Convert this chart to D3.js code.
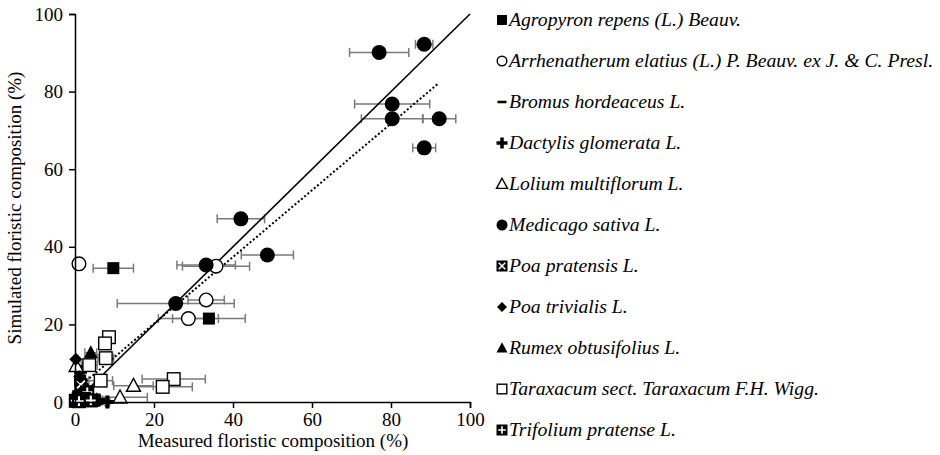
<!DOCTYPE html>
<html>
<head>
<meta charset="utf-8">
<script src="https://cdn.jsdelivr.net/npm/d3@7/dist/d3.min.js"></script>
<style>
  html, body { margin: 0; padding: 0; background: #fff; }
  svg { display: block; }
  text { font-family: "Liberation Serif", "Times New Roman", serif; fill: #000; }
</style>
</head>
<body>
<svg id="chart" width="940" height="455"></svg>
<script>
// Measured vs simulated floristic composition (%), one array per species: [measured, simulated, error of measured]
const agropyron   = [[9.7, 34.5, 5.1], [33.9, 21.5, 9.2], [1.3, 5.5, 1.0], [0.8, 1.5, 0.6]];
const arrhenather = [[1.0, 35.6, 0.6], [35.7, 35.0, 8.5], [33.2, 26.3, 4.6], [28.7, 21.5, 7.6]];
const bromus      = [[0.5, 0.3, 0.5], [1.2, 1.0, 0.8]];
const dactylis    = [[1.4, 7.8, 1.0], [8.2, 0.0, 0.6], [6.0, 0.5, 1.0]];
const lolium      = [[0.3, 9.3, 0.5], [14.8, 4.2, 5.0], [11.4, 1.2, 6.9]];
const medicago    = [[88.4, 92.2, 2.2], [77.0, 90.1, 7.5], [80.3, 76.8, 9.5], [80.3, 73.0, 7.8],
                     [92.2, 73.0, 4.2], [88.4, 65.5, 2.9], [42.0, 47.2, 6.0], [48.7, 37.9, 6.6],
                     [33.2, 35.3, 7.4], [25.5, 25.4, 14.8]];
const poaPrat     = [[0.8, 0.8, 0.5], [1.5, 4.5, 1.0]];
const poaTriv     = [[0.2, 11.0, 0.5], [1.0, 0.5, 0.5], [1.2, 6.5, 0.8]];
const rumex       = [[4.0, 12.7, 1.5], [2.3, 0.3, 1.0], [4.4, 0.3, 1.2], [5.5, 0.6, 1.0], [3.2, 3.2, 1.0]];
const taraxacum   = [[8.6, 16.7, 1.5], [7.6, 15.1, 1.5], [7.8, 11.3, 2.0], [3.6, 9.5, 2.0],
                     [6.5, 5.5, 3.0], [25.0, 5.9, 8.0], [22.2, 3.9, 7.5]];
const trifolium   = [[0.2, 0.3, 0.5], [3.1, 2.5, 1.0], [2.3, 0.8, 0.8], [1.0, 0.2, 0.5], [4.0, 0.4, 0.8]];

const speciesNames = [
  "Agropyron repens (L.) Beauv.",
  "Arrhenatherum elatius (L.) P. Beauv. ex J. & C. Presl.",
  "Bromus hordeaceus L.",
  "Dactylis glomerata L.",
  "Lolium multiflorum L.",
  "Medicago sativa L.",
  "Poa pratensis L.",
  "Poa trivialis L.",
  "Rumex obtusifolius L.",
  "Taraxacum sect. Taraxacum F.H. Wigg.",
  "Trifolium pratense L."
];
const speciesShapes = ["square", "circleOpen", "dash", "plus", "triangleOpen", "circle",
                       "squareX", "diamond", "triangle", "squareOpen", "squarePlus"];
const speciesData = [agropyron, arrhenather, bromus, dactylis, lolium, medicago,
                     poaPrat, poaTriv, rumex, taraxacum, trifolium];

const axisTicks = [0, 20, 40, 60, 80, 100];
const oneToOne = [[0, 0], [100, 100]];          // 1:1 line
const fitLine  = [[2, 4.7], [92, 82.1]];        // fitted trend (dotted)

const svg = d3.select("#chart");
const x = d3.scaleLinear().domain([0, 100]).range([75, 470]);
const y = d3.scaleLinear().domain([0, 100]).range([402, 14]);

// draw a marker of a given shape centred on (0,0) with half-size s
function drawMarker(g, shape, s) {
  switch (shape) {
    case "circle":
      g.append("circle").attr("r", s).attr("fill", "#000"); break;
    case "circleOpen":
      g.append("circle").attr("r", s - 0.7).attr("fill", "#fff").attr("stroke", "#000").attr("stroke-width", 1.4); break;
    case "square":
      g.append("rect").attr("x", -s).attr("y", -s).attr("width", 2 * s).attr("height", 2 * s).attr("fill", "#000"); break;
    case "squareOpen":
      g.append("rect").attr("x", -s + 0.7).attr("y", -s + 0.7).attr("width", 2 * s - 1.4).attr("height", 2 * s - 1.4)
        .attr("fill", "#fff").attr("stroke", "#000").attr("stroke-width", 1.4); break;
    case "triangle":
    case "triangleOpen": {
      const p = `M0,${-s * 1.05}L${s},${s * 0.8}L${-s},${s * 0.8}Z`;
      const t = g.append("path").attr("d", p);
      if (shape === "triangle") t.attr("fill", "#000");
      else t.attr("fill", "#fff").attr("stroke", "#000").attr("stroke-width", 1.4).attr("stroke-linejoin", "miter");
      break;
    }
    case "diamond":
      g.append("path").attr("d", `M0,${-s}L${s},0L0,${s}L${-s},0Z`).attr("fill", "#000"); break;
    case "plus": {
      const w = s * 0.32;
      g.append("path").attr("d",
        `M${-w},${-s}H${w}V${-w}H${s}V${w}H${w}V${s}H${-w}V${w}H${-s}V${-w}H${-w}Z`).attr("fill", "#000");
      break;
    }
    case "dash":
      g.append("rect").attr("x", -s).attr("y", -s * 0.28).attr("width", 2 * s).attr("height", s * 0.56).attr("fill", "#000"); break;
    case "squareX": {
      g.append("rect").attr("x", -s).attr("y", -s).attr("width", 2 * s).attr("height", 2 * s).attr("fill", "#000");
      const k = s * 0.6;
      g.append("path").attr("d", `M${-k},${-k}L${k},${k}M${k},${-k}L${-k},${k}`)
        .attr("stroke", "#fff").attr("stroke-width", s * 0.28);
      break;
    }
    case "squarePlus": {
      g.append("rect").attr("x", -s).attr("y", -s).attr("width", 2 * s).attr("height", 2 * s).attr("fill", "#000");
      const k = s * 0.7;
      g.append("path").attr("d", `M${-k},0H${k}M0,${-k}V${k}`)
        .attr("stroke", "#fff").attr("stroke-width", s * 0.3);
      break;
    }
  }
}

const plotSize = {circle: 7.5, circleOpen: 7.5, square: 6, squareOpen: 7, triangle: 7, triangleOpen: 7,
                  diamond: 6.5, plus: 6.5, dash: 5, squareX: 6.5, squarePlus: 7};

// horizontal error bars
const errG = svg.append("g").attr("class", "errors");
speciesData.forEach(rows => {
  rows.forEach(([mx, sy, e]) => {
    if (e <= 0) return;
    const x0 = x(Math.max(0, mx - e)), x1 = x(mx + e), yy = y(sy);
    errG.append("line").attr("x1", x0).attr("x2", x1).attr("y1", yy).attr("y2", yy)
      .attr("stroke", "#7a7a7a").attr("stroke-width", 1.5);
    [mx - e, mx + e].forEach(v => {
      if (v < 0) return;
      errG.append("line").attr("x1", x(v)).attr("x2", x(v)).attr("y1", yy - 4.5).attr("y2", yy + 4.5)
        .attr("stroke", "#7a7a7a").attr("stroke-width", 1.5);
    });
  });
});

// reference lines
const line = d3.line().x(d => x(d[0])).y(d => y(d[1]));
svg.append("path").datum(oneToOne).attr("d", line).attr("fill", "none")
  .attr("stroke", "#000").attr("stroke-width", 1.6);
svg.append("path").datum(fitLine).attr("d", line).attr("fill", "none")
  .attr("stroke", "#000").attr("stroke-width", 2).attr("stroke-dasharray", "2,2.2");

// markers
const markG = svg.append("g").attr("class", "markers");
speciesData.forEach((rows, i) => {
  const shape = speciesShapes[i];
  rows.forEach(([mx, sy]) => {
    const g = markG.append("g").attr("transform", `translate(${x(mx)},${y(sy)})`);
    drawMarker(g, shape, plotSize[shape]);
  });
});

// axes
const xAxis = svg.append("g").attr("transform", "translate(0,402)")
  .call(d3.axisBottom(x).tickValues(axisTicks).tickSize(6).tickPadding(5).tickFormat(d3.format("d")));
const yAxis = svg.append("g").attr("transform", "translate(75,0)")
  .call(d3.axisLeft(y).tickValues(axisTicks).tickSize(6).tickPadding(6).tickFormat(d3.format("d")));
[xAxis, yAxis].forEach(a => {
  a.select(".domain").attr("stroke", "#000").attr("stroke-width", 1.5);
  a.selectAll(".tick line").attr("stroke", "#000").attr("stroke-width", 1.5);
  a.selectAll(".tick text").style("font-family", '"Liberation Serif", serif').style("font-size", "19px").attr("fill", "#000");
});

svg.append("text").attr("x", 273).attr("y", 447).attr("text-anchor", "middle")
  .style("font-size", "19px").text("Measured floristic composition (%)");
svg.append("text").attr("transform", "translate(21,208) rotate(-90)").attr("text-anchor", "middle")
  .style("font-size", "19px").text("Simulated floristic composition (%)");

// legend
const legendSize = {circle: 5.5, circleOpen: 5.5, square: 5, squareOpen: 5.5, triangle: 5.5, triangleOpen: 5.5,
                    diamond: 5, plus: 5.5, dash: 4.5, squareX: 5.5, squarePlus: 5.5};
const legend = svg.append("g").attr("class", "legend");
speciesNames.forEach((name, i) => {
  const cy = 20 + i * 41;
  const g = legend.append("g").attr("transform", `translate(502,${cy})`);
  drawMarker(g, speciesShapes[i], legendSize[speciesShapes[i]]);
  legend.append("text").attr("x", 509).attr("y", cy + 6).style("font-size", "19.7px")
    .style("font-style", "italic").text(name);
});
</script>
</body>
</html>
